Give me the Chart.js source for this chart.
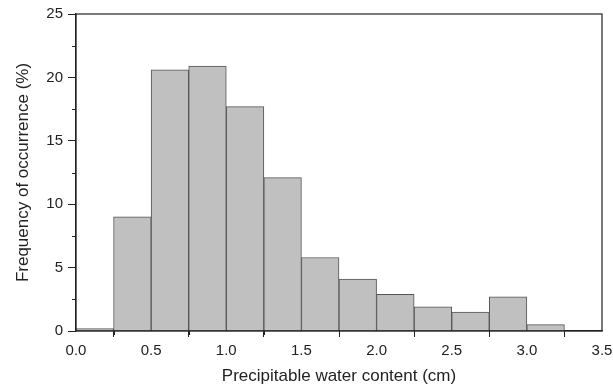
<!DOCTYPE html>
<html>
<head>
<meta charset="utf-8">
<script src="https://cdn.jsdelivr.net/npm/chart.js@4/dist/chart.umd.min.js"></script>
<style>
  html, body { margin: 0; padding: 0; background: #fff; }
  #wrap { width: 613px; height: 390px; }
</style>
</head>
<body>
<div id="wrap"><canvas id="grafico"></canvas></div>
<script>
// ===== dados =====
const binStart = [0.0, 0.25, 0.5, 0.75, 1.0, 1.25, 1.5, 1.75, 2.0, 2.25, 2.5, 2.75, 3.0, 3.25];
const frequencia = [0.2, 9.0, 20.6, 20.9, 17.7, 12.1, 5.8, 4.1, 2.9, 1.9, 1.5, 2.7, 0.5, 0];
const binWidth = 0.25;
const xTicks = [0, 0.5, 1.0, 1.5, 2.0, 2.5, 3.0, 3.5];
const yTicks = [0, 5, 10, 15, 20, 25];

const pontos = binStart.map((s, i) => ({ x: s + binWidth / 2, y: frequencia[i] }));

const fonte = "'Liberation Sans', Arial, Helvetica, sans-serif";
const cinza = '#222';

// moldura + ticks menores
const moldura = {
  id: 'moldura',
  afterDraw(chart) {
    const { ctx, chartArea: a, scales } = chart;
    ctx.save();
    ctx.strokeStyle = cinza;
    ctx.lineWidth = 1.2;
    ctx.strokeRect(a.left, a.top, a.right - a.left, a.bottom - a.top);
    ctx.lineWidth = 1;
    ctx.beginPath();
    for (let v = 0.25; v < 3.5; v += 0.5) {
      const px = Math.round(scales.x.getPixelForValue(v)) + 0.5;
      ctx.moveTo(px, a.bottom);
      ctx.lineTo(px, a.bottom + 4);
    }
    for (let v = 2.5; v < 25; v += 5) {
      const py = Math.round(scales.y.getPixelForValue(v)) + 0.5;
      ctx.moveTo(a.left, py);
      ctx.lineTo(a.left - 4, py);
    }
    ctx.stroke();
    ctx.restore();
  }
};

new Chart(document.getElementById('grafico'), {
  type: 'bar',
  data: {
    datasets: [{
      data: pontos,
      backgroundColor: '#c0c0c0',
      borderColor: '#555',
      borderWidth: 1,
      borderSkipped: 'bottom',
      barPercentage: 1,
      categoryPercentage: 1
    }]
  },
  options: {
    responsive: true,
    maintainAspectRatio: false,
    animation: false,
    layout: { padding: { top: 14, right: 11, left: 0, bottom: 0 } },
    plugins: { legend: { display: false }, tooltip: { enabled: false } },
    scales: {
      x: {
        type: 'linear',
        min: 0,
        max: 3.5,
        offset: false,
        afterFit(s) { s.height = 59; s.paddingLeft = 0; s.paddingRight = 0; },
        afterBuildTicks(s) { s.ticks = xTicks.map(v => ({ value: v })); },
        ticks: {
          color: cinza,
          font: { family: fonte, size: 15 },
          padding: 5,
          callback: v => v.toFixed(1)
        },
        grid: { drawOnChartArea: false, drawTicks: true, tickLength: 6, tickColor: cinza },
        border: { display: true, color: cinza, width: 1.2 },
        title: {
          display: true,
          text: 'Precipitable water content (cm)',
          color: cinza,
          font: { family: fonte, size: 17 },
          padding: { top: 0, bottom: 3 }
        }
      },
      y: {
        min: 0,
        max: 25,
        afterFit(s) { s.width = 76; s.paddingTop = 0; s.paddingBottom = 0; },
        afterBuildTicks(s) { s.ticks = yTicks.map(v => ({ value: v })); },
        ticks: {
          color: cinza,
          font: { family: fonte, size: 15 },
          padding: 5
        },
        grid: { drawOnChartArea: false, drawTicks: true, tickLength: 8, tickColor: cinza },
        border: { display: true, color: cinza, width: 1.2 },
        title: {
          display: true,
          text: 'Frequency of occurrence (%)',
          color: cinza,
          font: { family: fonte, size: 17 },
          padding: { top: 13, bottom: 0 }
        }
      }
    }
  },
  plugins: [moldura]
});
</script>
</body>
</html>
